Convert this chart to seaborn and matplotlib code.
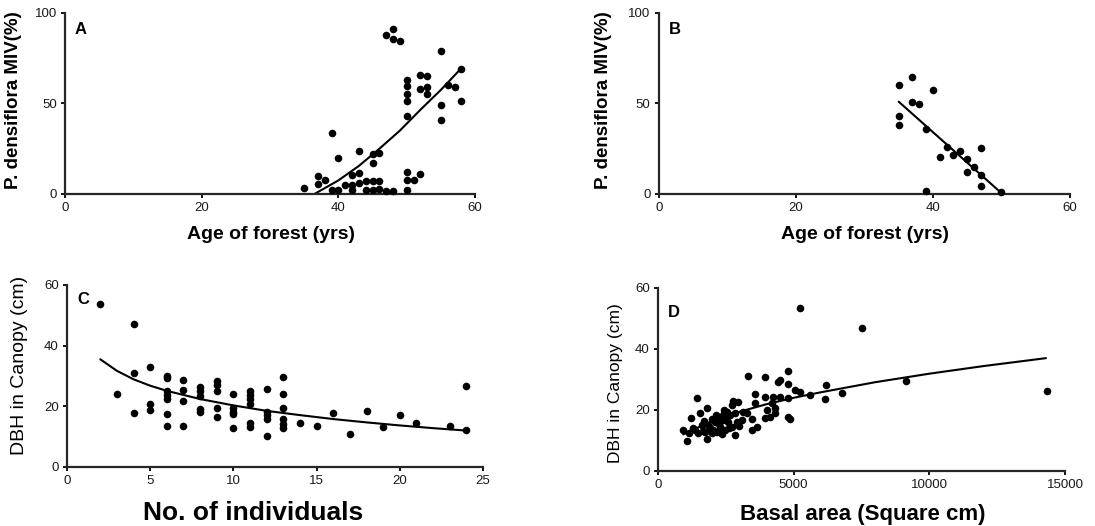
import numpy as np
import pandas as pd
import matplotlib
matplotlib.use('Agg')
import matplotlib.pyplot as plt
import seaborn as sns

# Panel A: age of forest vs P. densiflora MIV
age_a = [35, 37, 38, 37, 39, 40, 39, 40, 41, 42, 43, 43, 42, 43, 42, 44, 45, 46,
         45, 45, 46, 45, 46, 44, 47, 48, 50, 50, 50, 51, 52, 47, 48, 48, 49, 55,
         50, 50, 50, 50, 50, 52, 53, 52, 53, 53, 55, 55, 56, 57, 58, 58]
miv_a = [3.5, 10, 8, 5.5, 33.5, 19.7, 2, 2, 5, 10.5, 11.5, 24, 5, 6, 2, 7, 7, 7,
         17, 22, 22.5, 2, 3, 2, 1.8, 1.8, 2, 12, 8, 7.7, 11, 88, 91, 85.5, 84.5, 79,
         63, 59.5, 55.5, 51.5, 43, 66, 65, 58, 59, 55, 49, 41, 60, 59, 69, 51.5]
fit_a_x = [36.5, 40, 43, 46, 49, 52, 55, 58]
fit_a_y = [0, 7.5, 15.5, 25, 35, 46.5, 57.5, 69.5]

# Panel B
age_b = [35, 35, 35, 37, 37, 38, 40, 39, 39, 41, 42, 43, 44, 45, 45, 46, 47, 47, 47, 50]
miv_b = [60, 43, 38, 64.5, 51, 49.5, 57.5, 36, 1.8, 20.5, 26, 21.5, 24, 19.5, 12.3,
         14.7, 25.5, 10.5, 4.5, 0.9]
fit_b_x = [35, 50]
fit_b_y = [51, 0.5]

# Panel C: number of individuals vs DBH in canopy
n_c = [2, 4, 4, 4, 3, 5, 5, 5, 6, 6, 6, 6, 6, 6, 6, 7, 7, 7, 7, 8, 8, 8, 8, 8,
       9, 9, 9, 9, 9, 10, 10, 10, 10, 10, 11, 11, 11, 11, 11, 11, 12, 12, 12, 12, 12,
       13, 13, 13, 13, 13, 13, 14, 15, 16, 17, 18, 19, 20, 21, 23, 24, 24]
dbh_c = [53.7, 47.1, 31.1, 17.7, 24.1, 33, 20.8, 18.8, 30.1, 29.3, 25.2, 23.8, 22.4,
         17.4, 13.5, 28.7, 25.4, 21.6, 13.5, 26.3, 24.9, 23.4, 19, 18,
         28.5, 27, 25.2, 19.3, 16.6, 24, 19.3, 18.2, 17.5, 12.8, 25.2, 23.8, 22.4,
         20.8, 14.6, 13.3, 25.7, 18.2, 17.1, 15.7, 10.2,
         29.8, 24, 19.3, 15.7, 14.1, 12.8, 14.4, 13.5, 17.7, 10.9, 18.3, 13.3, 17.2,
         14.4, 13.5, 26.7, 12.2]
fit_c_x = [2, 3, 4, 5, 6, 8, 10, 12, 14, 16, 18, 20, 22, 24]
fit_c_y = [35.5, 31.7, 28.9, 26.8, 25.1, 22.4, 20.3, 18.5, 17.1, 15.8, 14.7, 13.7, 12.8, 12.0]

# Panel D: basal area vs DBH in canopy
ba_d = [933, 1057, 1216, 1426, 1548, 1795, 1795, 1363, 1485, 1610, 1730, 1854, 1979,
        2038, 2100, 2160, 2222, 2285, 2406, 2406, 2469, 2531, 2591, 2715, 2715, 2775,
        2837, 2837, 3084, 3268, 3328, 3453, 3574, 3574, 3637, 3943, 3943, 3943, 4005,
        4127, 4189, 4250, 4311, 4311, 4434, 4496, 4496, 4802, 4802, 4802, 4802, 4864,
        5048, 5233, 5601, 6154, 6191, 6769, 5233, 7506, 9128, 14346,
        1150, 1300, 1700, 1900, 2000, 2250, 2350, 2500, 2650, 2900, 3000, 2600, 1650,
        2150, 2450, 2950, 3150, 3450]
dbh_d = [13.4, 9.9, 17.3, 24, 18.9, 20.5, 10.4, 13.4, 12.4, 15.1, 12.7, 15.1, 12.4,
         13.4, 16.2, 12.9, 17.8, 14.5, 18.4, 16.7, 13.4, 19.4, 16.2, 14.5, 21.6, 23,
         18.9, 11.8, 16.7, 18.9, 31.1, 13.4, 25.2, 22.2, 14.5, 30.9, 24.4, 17.3, 20,
         17.8, 22.2, 24.4, 20.5, 18.9, 29.3, 29.8, 24.2, 32.8, 28.5, 23.8, 17.8, 16.9,
         26.6, 26, 24.9, 23.6, 28.2, 25.7, 53.3, 46.8, 29.6, 26.3,
         12.5, 14, 16.5, 14, 17.2, 15.5, 12.2, 17.5, 18.5, 16, 14.8, 14, 13,
         18.5, 20, 22.5, 19.5, 17]
fit_d_x = [933, 2000, 3000, 4000, 5000, 6000, 8000, 10000, 12000, 14300]
fit_d_y = [12, 16.4, 19.4, 21.9, 24, 25.8, 29.1, 31.9, 34.4, 37]

sns.set_style('ticks')
plt.rcParams['font.family'] = ['Liberation Sans', 'DejaVu Sans']
plt.rcParams['text.color'] = 'black'
plt.rcParams['axes.labelcolor'] = 'black'
plt.rcParams['axes.linewidth'] = 1.6
plt.rcParams['xtick.major.width'] = 1.3
plt.rcParams['ytick.major.width'] = 1.3
plt.rcParams['xtick.major.size'] = 3
plt.rcParams['ytick.major.size'] = 3

fig = plt.figure(figsize=(10.95, 5.26), dpi=100)
axA = fig.add_axes([0.0594, 0.6312, 0.3744, 0.3441])
axB = fig.add_axes([0.6018, 0.6312, 0.3753, 0.3441])
axC = fig.add_axes([0.0612, 0.1122, 0.3799, 0.3460])
axD = fig.add_axes([0.6009, 0.1046, 0.3717, 0.3479])

panels = [
    (axA, age_a, miv_a, fit_a_x, fit_a_y),
    (axB, age_b, miv_b, fit_b_x, fit_b_y),
    (axC, n_c, dbh_c, fit_c_x, fit_c_y),
    (axD, ba_d, dbh_d, fit_d_x, fit_d_y),
]
for ax, xs, ys, fx, fy in panels:
    df = pd.DataFrame({'x': xs, 'y': ys})
    sns.scatterplot(data=df, x='x', y='y', ax=ax, color='black', s=30,
                    edgecolor='black', linewidth=0, clip_on=False, zorder=3)
    fit = pd.DataFrame({'x': fx, 'y': fy})
    sns.lineplot(data=fit, x='x', y='y', ax=ax, color='black', linewidth=1.5,
                 sort=False, estimator=None)
    sns.despine(ax=ax)
    ax.tick_params(labelsize=9.5, labelcolor='#1a1a1a', pad=3, color='black')

# panel A / B
for ax in (axA, axB):
    ax.set_xlim(0, 60)
    ax.set_ylim(0, 100)
    ax.set_xticks([0, 20, 40, 60])
    ax.set_yticks([0, 50, 100])
    ax.set_xlabel('Age of forest (yrs)', fontsize=14, fontweight='bold')
    ax.set_ylabel('P. densiflora MIV(%)', fontsize=13.5, fontweight='bold')
    ax.xaxis.set_label_coords(0.502, -0.175)
axA.yaxis.set_label_coords(-0.105, 0.52)
axB.yaxis.set_label_coords(-0.114, 0.52)

axC.set_xlim(0, 25)
axC.set_ylim(0, 60)
axC.set_xticks([0, 5, 10, 15, 20, 25])
axC.set_yticks([0, 20, 40, 60])
axC.set_xlabel('No. of individuals', fontsize=19, fontweight='bold')
axC.set_ylabel('DBH in Canopy (cm)', fontsize=14)
axC.xaxis.set_label_coords(0.447, -0.185)
axC.yaxis.set_label_coords(-0.094, 0.56)

axD.set_xlim(0, 15000)
axD.set_ylim(0, 60)
axD.set_xticks([0, 5000, 10000, 15000])
axD.set_yticks([0, 20, 40, 60])
axD.set_xlabel('Basal area (Square cm)', fontsize=16, fontweight='bold')
axD.set_ylabel('DBH in Canopy (cm)', fontsize=12.5)
axD.xaxis.set_label_coords(0.504, -0.18)
axD.yaxis.set_label_coords(-0.086, 0.48)

for ax, letter, yy in [(axA, 'A', 0.95), (axB, 'B', 0.95), (axC, 'C', 0.96), (axD, 'D', 0.905)]:
    ax.text(0.024, yy, letter, transform=ax.transAxes, fontsize=12,
            fontweight='bold', va='top', ha='left')

fig.savefig('out.png', dpi=100)
